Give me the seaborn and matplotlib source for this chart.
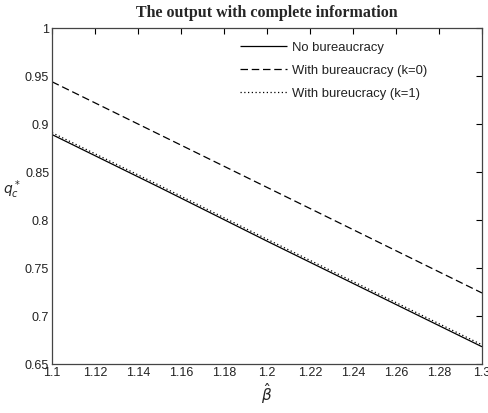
import numpy as np
import pandas as pd
import matplotlib
matplotlib.use("Agg")
import matplotlib.pyplot as plt
import seaborn as sns

beta = [1.10, 1.15, 1.20, 1.25, 1.30]
no_bureau = [0.889, 0.834, 0.778, 0.723, 0.668]
bureau_k0 = [0.944, 0.889, 0.834, 0.779, 0.724]
bureau_k1 = [0.891, 0.836, 0.780, 0.725, 0.670]
labels = ["No bureaucracy", "With bureaucracy (k=0)", "With bureucracy (k=1)"]
xticks = [1.1, 1.12, 1.14, 1.16, 1.18, 1.2, 1.22, 1.24, 1.26, 1.28, 1.3]
yticks = [0.65, 0.7, 0.75, 0.8, 0.85, 0.9, 0.95, 1]

sns.set_style("white")
plt.rcParams['font.family'] = ['Liberation Sans', 'DejaVu Sans']

df = pd.DataFrame({
    "beta": beta * 3,
    "val": no_bureau + bureau_k0 + bureau_k1,
    "series": sum([[l] * len(beta) for l in labels], []),
})

fig = plt.figure(figsize=(4.88, 4.13), dpi=100)
ax = fig.add_axes([0.1066, 0.1186, 0.8811, 0.8136])

styles = {labels[0]: (0, ()), labels[1]: (0, (6, 3)), labels[2]: (0, (1, 2))}
for lab in labels:
    sub = df[df.series == lab]
    sns.lineplot(data=sub, x="beta", y="val", ax=ax, color="black", lw=0.9,
                 linestyle=styles[lab], label=lab)

ax.set_xlim(1.1, 1.3)
ax.set_ylim(0.65, 1.0)
ax.set_xticks(xticks)
ax.set_xticklabels([f"{t:g}" for t in xticks])
ax.set_yticks(yticks)
ax.set_yticklabels([f"{t:g}" for t in yticks])
ax.tick_params(direction="in", length=4, width=0.8, labelsize=9, colors="black",
               labelcolor="#222222", top=True, right=True, pad=2)
for s in ax.spines.values():
    s.set_color("#444444")
    s.set_linewidth(0.9)

ax.set_xlabel(r"$\hat{\beta}$", fontsize=11, labelpad=2)
ax.set_ylabel(r"$q_c^*$", fontsize=10, rotation=0, va="center", ha="center")
ax.yaxis.set_label_coords(-0.093, 0.518)
ax.set_title("The output with complete information", fontsize=11.5, fontweight="bold",
             family="Liberation Serif", pad=8)

leg = ax.legend(loc="upper left", frameon=False, fontsize=9.4, handlelength=3.6,
                bbox_to_anchor=(0.41, 0.995), labelspacing=0.85, handletextpad=0.4)
for t in leg.get_texts():
    t.set_color("#222222")

fig.savefig("out.png", dpi=100)
